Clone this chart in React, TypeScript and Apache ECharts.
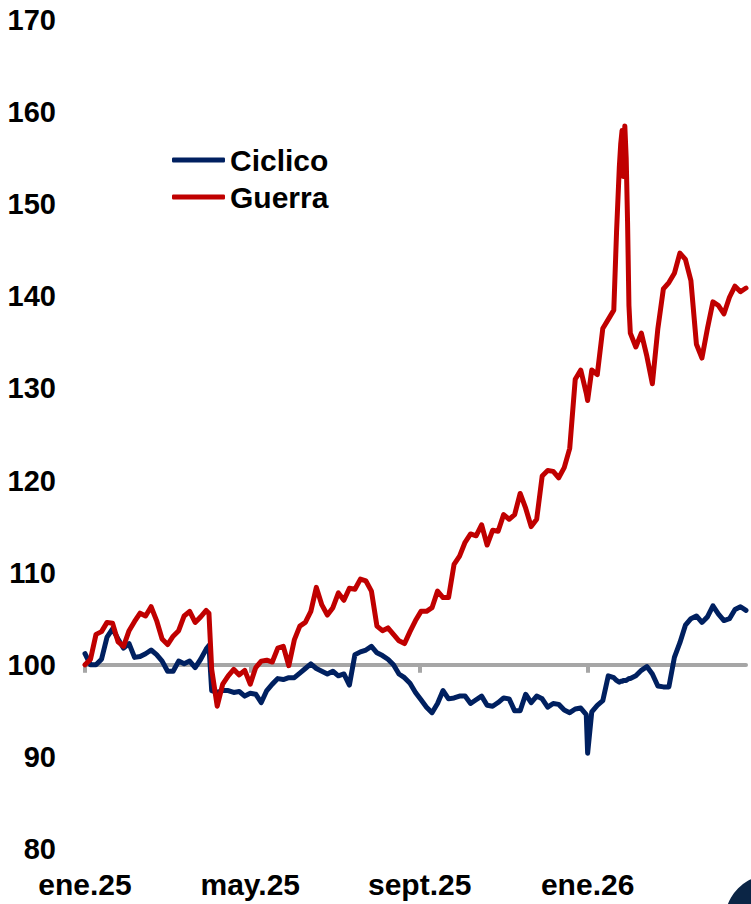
import React, { useEffect, useRef } from 'react';
import * as echarts from 'echarts';

// Days elapsed since 1 Jan 2025
const days = [
  0, 4, 8, 12, 16, 20, 24, 28, 32, 36, 40, 44, 48, 52, 56, 60, 64, 68, 72, 76, 80, 84, 88, 90, 92, 96,
  100, 104, 108, 112, 116, 120, 124, 128, 132, 136, 140, 144, 148, 152, 156, 160, 164, 168, 172, 176,
  180, 184, 188, 192, 196, 200, 204, 208, 212, 216, 220, 224, 228, 232, 236, 240, 244, 248, 252, 256,
  260, 264, 268, 272, 276, 280, 284, 288, 292, 296, 300, 304, 308, 312, 316, 320, 324, 328, 332, 336,
  340, 344, 348, 352, 356, 360, 364, 365, 368, 372, 376, 380, 384, 386, 388, 389, 390, 391, 392, 393,
  394, 395, 396, 400, 404, 408, 412, 416, 420, 424, 428, 432, 436, 440, 444, 448, 452, 456, 460, 464,
  468, 472, 476, 480,
];

const ciclico = [
  101.2, 100.0, 100.0, 100.6, 103.0, 103.9, 102.8, 101.8, 102.3, 100.8, 100.9, 101.2, 101.6, 101.1,
  100.4, 99.3, 99.3, 100.4, 100.1, 100.4, 99.7, 100.6, 101.7, 102.1, 97.2, 97.0, 97.2, 97.2, 97.0,
  97.1, 96.6, 96.9, 96.8, 95.9, 97.2, 97.9, 98.5, 98.4, 98.6, 98.6, 99.1, 99.6, 100.1, 99.6, 99.3,
  99.0, 99.3, 98.8, 99.0, 97.8, 101.1, 101.4, 101.6, 102.0, 101.3, 101.0, 100.6, 100.0, 99.0, 98.6,
  98.0, 97.0, 96.2, 95.4, 94.8, 95.8, 97.2, 96.3, 96.4, 96.6, 96.6, 95.8, 96.2, 96.6, 95.6, 95.5,
  95.9, 96.4, 96.3, 95.0, 95.0, 96.8, 95.9, 96.6, 96.3, 95.4, 95.8, 95.7, 95.1, 94.8, 95.2, 95.3,
  94.6, 90.4, 94.9, 95.6, 96.1, 98.8, 98.6, 98.3, 98.1, 98.2, 98.2, 98.3, 98.3, 98.3, 98.4, 98.5,
  98.5, 98.8, 99.4, 99.8, 99.0, 97.7, 97.6, 97.6, 100.8, 102.4, 104.3, 105.0, 105.3, 104.6, 105.2,
  106.4, 105.5, 104.8, 105.0, 106.0, 106.3, 105.9,
];

const guerra = [
  100.0, 100.6, 103.3, 103.6, 104.6, 104.5, 102.5, 102.0, 103.7, 104.7, 105.6, 105.3, 106.3, 104.8,
  102.8, 102.2, 103.1, 103.7, 105.3, 105.8, 104.6, 105.2, 105.9, 105.6, 99.5, 95.5, 97.9, 98.8, 99.5,
  98.9, 99.4, 97.9, 99.7, 100.4, 100.5, 100.3, 101.8, 102.0, 99.9, 102.7, 104.2, 104.6, 105.8, 108.4,
  106.5, 105.4, 106.2, 107.8, 107.0, 108.3, 108.2, 109.3, 109.1, 108.0, 104.2, 103.7, 104.0, 103.3,
  102.6, 102.3, 103.6, 104.8, 105.8, 105.8, 106.2, 108.0, 107.3, 107.3, 110.9, 111.8, 113.3, 114.2,
  114.0, 115.2, 113.0, 114.6, 114.5, 116.3, 115.8, 116.3, 118.6, 117.0, 115.0, 115.8, 120.5, 121.1,
  121.0, 120.3, 121.4, 123.5, 131.0, 132.0, 129.5, 128.7, 132.0, 131.5, 136.5, 137.5, 138.5, 147.0,
  154.0, 156.5, 158.0, 153.0, 158.5, 155.0, 148.0, 139.0, 136.0, 134.5, 136.0, 133.5, 130.5, 136.5,
  140.8, 141.5, 142.5, 144.7, 144.0, 141.7, 134.8, 133.3, 136.5, 139.4, 139.0, 138.1, 139.9, 141.1,
  140.5, 140.9,
];

const tickDays = [0, 120, 243, 365];
const tickLabels = ['ene.25', 'may.25', 'sept.25', 'ene.26'];
const seriesNames = ['Ciclico', 'Guerra'];
const Y_MIN = 80;
const Y_MAX = 170;
const Y_STEP = 10;
const BASELINE = 100;
const X_MAX = 480;

export default function App() {
  const ref = useRef<HTMLDivElement>(null);

  useEffect(() => {
    if (!ref.current) return;
    const chart = echarts.init(ref.current, null, { renderer: 'svg' });
    const font = '"Liberation Sans", Arial, Helvetica, sans-serif';
    const W = 751;
    const H = 904;
    const gridTop = 20;
    const gridBottom = 55;
    const plotH = H - gridTop - gridBottom;
    const baseOffset = -plotH * (BASELINE - Y_MIN) / (Y_MAX - Y_MIN);
    const pairs = (vals: number[]) => days.map((d, i) => [d, vals[i]]);
    const labelFor = (v: number) => {
      const i = tickDays.indexOf(Math.round(v));
      return i >= 0 ? tickLabels[i] : '';
    };

    chart.setOption({
      animation: false,
      backgroundColor: '#ffffff',
      textStyle: { fontFamily: font },
      grid: {
        left: 85,
        right: 5,
        top: gridTop,
        bottom: gridBottom,
        containLabel: false,
        outerBoundsMode: 'none',
      },
      legend: {
        data: seriesNames,
        orient: 'vertical',
        left: 167,
        top: 140,
        itemWidth: 53,
        itemHeight: 5,
        itemGap: 7,
        icon: 'roundRect',
        textStyle: { fontSize: 30, fontWeight: 'bold', color: '#000', fontFamily: font },
      },
      xAxis: [
        {
          type: 'value',
          min: 0,
          max: X_MAX,
          axisLine: { show: false },
          axisTick: { show: false },
          splitLine: { show: false },
          axisLabel: {
            customValues: tickDays,
            formatter: labelFor,
            fontSize: 30,
            fontWeight: 'bold',
            color: '#000',
            fontFamily: font,
            margin: 20,
          },
        },
        {
          type: 'value',
          min: 0,
          max: X_MAX,
          position: 'bottom',
          offset: baseOffset,
          axisLine: { show: true, lineStyle: { color: '#A6A6A6', width: 4 } },
          axisTick: {
            show: true,
            customValues: tickDays,
            length: 8,
            lineStyle: { color: '#A6A6A6', width: 4 },
          },
          axisLabel: { show: false },
          splitLine: { show: false },
        },
      ],
      yAxis: {
        type: 'value',
        min: Y_MIN,
        max: Y_MAX,
        interval: Y_STEP,
        axisLine: { show: false },
        axisTick: { show: false },
        splitLine: { show: false },
        axisLabel: {
          fontSize: 29,
          fontWeight: 'bold',
          color: '#000',
          fontFamily: font,
          margin: 29,
        },
      },
      series: [
        {
          name: seriesNames[0],
          type: 'line',
          data: pairs(ciclico),
          showSymbol: false,
          symbol: 'none',
          color: '#002060',
          lineStyle: { color: '#002060', width: 5, join: 'round', cap: 'round' },
          z: 3,
        },
        {
          name: seriesNames[1],
          type: 'line',
          data: pairs(guerra),
          showSymbol: false,
          symbol: 'none',
          color: '#C00000',
          lineStyle: { color: '#C00000', width: 5, join: 'round', cap: 'round' },
          z: 4,
        },
      ],
      graphic: [
        {
          type: 'circle',
          shape: { cx: W + 19, cy: H + 16, r: 45 },
          style: { fill: '#0b2545' },
          silent: true,
        },
      ],
    });

    return () => chart.dispose();
  }, []);

  return (
    <div
      ref={ref}
      style={{ position: 'absolute', left: 0, top: 0, width: 751, height: 904 }}
    />
  );
}
